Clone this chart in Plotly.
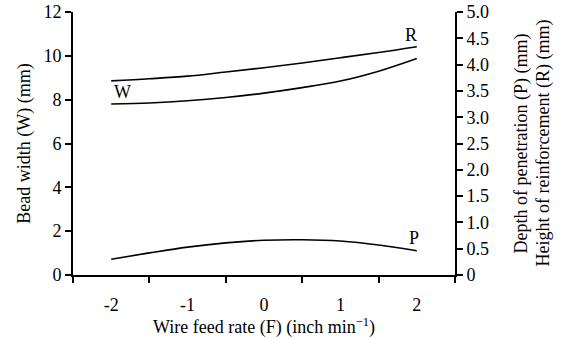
import plotly.graph_objects as go

feed_rate = [-2, -1.5, -1, -0.5, 0, 0.5, 1, 1.5, 2]
bead_width_W = [7.80, 7.85, 7.95, 8.10, 8.30, 8.55, 8.85, 9.30, 9.88]
reinforcement_R = [3.69, 3.73, 3.78, 3.86, 3.94, 4.03, 4.13, 4.23, 4.34]
penetration_P = [0.30, 0.42, 0.53, 0.61, 0.66, 0.67, 0.645, 0.57, 0.46]

x_labels = [-2, -1, 0, 1, 2]
left_ticks = [0, 2, 4, 6, 8, 10, 12]
right_ticks = [0, 0.5, 1, 1.5, 2, 2.5, 3, 3.5, 4, 4.5, 5]
right_text = ["0", "0.5", "1.0", "1.5", "2.0", "2.5", "3.0", "3.5", "4.0", "4.5", "5.0"]

FONT = "Liberation Serif, Times New Roman, serif"
FS = 18
line = dict(color="black", width=1.6, shape="spline", smoothing=1.0)

L, R, T, B = 73, 106, 12, 64
W_, H_ = 561, 339
pw = W_ - L - R
ph = H_ - T - B

fig = go.Figure()
fig.add_trace(go.Scatter(x=feed_rate, y=bead_width_W, mode="lines", line=line, yaxis="y"))
fig.add_trace(go.Scatter(x=feed_rate, y=reinforcement_R, mode="lines", line=line, yaxis="y2"))
fig.add_trace(go.Scatter(x=feed_rate, y=penetration_P, mode="lines", line=line, yaxis="y2"))

fig.update_layout(
    width=W_, height=H_,
    margin=dict(l=L, r=R, t=T, b=B, autoexpand=False),
    paper_bgcolor="white", plot_bgcolor="white",
    showlegend=False,
    font=dict(family=FONT, size=FS, color="black"),
    xaxis=dict(
        range=[-2.5, 2.5], tickvals=x_labels, ticktext=[str(v) for v in x_labels],
        ticks="", showgrid=False, zeroline=False, automargin=False,
        showline=True, linecolor="black", linewidth=2,
        ticklabelstandoff=12,
        minor=dict(tickvals=[-2.5, -1.5, -0.5, 0.5, 1.5, 2.5], ticks="outside",
                   ticklen=6, tickwidth=2, tickcolor="black", showgrid=False),
        title=dict(text="Wire feed rate (F) (inch min<sup>−1</sup>)", standoff=4,
                   font=dict(family=FONT, size=FS)),
        tickfont=dict(family=FONT, size=FS),
    ),
    yaxis=dict(
        range=[0, 12], tickvals=left_ticks, ticks="outside", ticklen=6, tickwidth=2,
        tickcolor="black", showgrid=False, zeroline=False, automargin=False,
        showline=True, linecolor="black", linewidth=2,
        title=dict(text="Bead width (W) (mm)", standoff=8, font=dict(family=FONT, size=FS)),
        tickfont=dict(family=FONT, size=FS),
    ),
    yaxis2=dict(
        range=[0, 5], overlaying="y", side="right", tickvals=right_ticks, ticktext=right_text,
        ticks="outside", ticklen=6, tickwidth=2, tickcolor="black", automargin=False,
        showgrid=False, zeroline=False, showline=True, linecolor="black", linewidth=2,
        tickfont=dict(family=FONT, size=FS),
    ),
)

annots = [
    dict(text="W", x=-1.85, y=8.36),
    dict(text="R", x=1.92, y=10.96),
    dict(text="P", x=1.96, y=1.69),
]
for a in annots:
    fig.add_annotation(showarrow=False, xref="x", yref="y", font=dict(family=FONT, size=FS), **a)

for txt, px in [("Depth of penetration (P) (mm)", 521), ("Height of reinforcement (R) (mm)", 543)]:
    fig.add_annotation(text=txt, x=(px - L) / pw, y=(H_ - B - 143.5) / ph,
                       xref="paper", yref="paper", xanchor="center", yanchor="middle",
                       showarrow=False, textangle=-90, font=dict(family=FONT, size=FS))

fig.write_html("out.html", config={"displayModeBar": False},
               post_script="document.body.style.margin='0';document.body.style.overflow='hidden';")
